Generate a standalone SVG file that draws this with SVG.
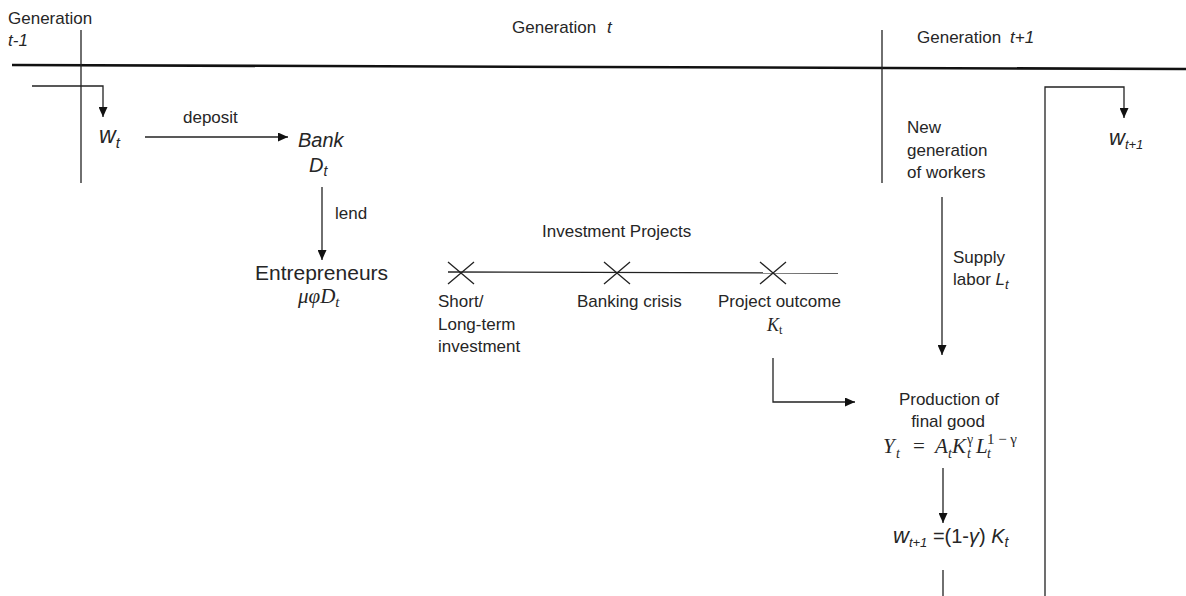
<svg xmlns="http://www.w3.org/2000/svg" width="1186" height="596" viewBox="0 0 1186 596">
<defs>
<marker id="ah" markerUnits="userSpaceOnUse" markerWidth="10" markerHeight="9" refX="10" refY="4.5" orient="auto">
<path d="M0,0 L10,4.5 L0,9 z" fill="#111"/>
</marker>
<style>
.t{font-family:"Liberation Sans",Arial,sans-serif;font-size:17px;fill:#262626}
.i{font-style:italic}
.m{font-family:"Liberation Serif","Times New Roman",serif;font-style:italic;fill:#262626}
.mf{font-family:"Liberation Serif","Times New Roman",serif;font-style:italic;fill:#262626;font-size:21px}
.ms{font-family:"Liberation Serif","Times New Roman",serif;font-style:italic;fill:#262626;font-size:14px}
.ln{stroke:#222;stroke-width:1.3;fill:none}
.ar{stroke:#222;stroke-width:1.3;fill:none;marker-end:url(#ah)}
</style>
</defs>
<rect width="1186" height="596" fill="#fff"/>
<g id="connectors">
<line x1="12" y1="65" x2="1186" y2="69" stroke="#111" stroke-width="2.6"/>
<line class="ln" x1="81" y1="30" x2="81" y2="183"/>
<line class="ln" x1="882" y1="30" x2="882" y2="183"/>
<polyline class="ar" points="32,86 103,86 103,117"/>
<line class="ar" x1="145" y1="137" x2="288" y2="137"/>
<line class="ar" x1="322" y1="187" x2="322" y2="260"/>
<line class="ln" x1="448" y1="272" x2="838" y2="273"/>
<path class="ln" d="M448,262 L474,284 M448,284 L474,262 M604,262 L630,284 M604,284 L630,262 M760,262 L786,284 M760,284 L786,262"/>
<polyline class="ar" points="773,358 773,402 855,402"/>
<line class="ar" x1="942" y1="197" x2="942" y2="355"/>
<polyline class="ar" points="1045,596 1045,87 1124,87 1124,118"/>
<line class="ar" x1="943" y1="468" x2="943" y2="523"/>
<line class="ln" x1="943" y1="570" x2="943" y2="596"/>
</g>
<g id="gen-t-1">
<text class="t" x="8" y="24">Generation</text>
<text class="t i" x="8" y="46">t-1</text>
</g>
<g id="gen-t">
<text class="t" x="512" y="33">Generation</text>
<text class="t i" x="607" y="33">t</text>
</g>
<g id="gen-t+1">
<text class="t" x="917" y="43">Generation</text>
<text class="t i" x="1010" y="43">t+1</text>
</g>
<g id="wt">
<text class="t i" x="99" y="143" style="font-size:23px">w<tspan dy="5" style="font-size:15px">t</tspan></text>
</g>
<g id="deposit-label">
<text class="t" x="183" y="123">deposit</text>
</g>
<g id="bank">
<text class="t i" x="298" y="147" style="font-size:20px">Bank</text>
<text class="t i" x="309" y="172" style="font-size:20px">D<tspan dy="4" style="font-size:14px">t</tspan></text>
</g>
<g id="lend-label">
<text class="t" x="335" y="219">lend</text>
</g>
<g id="entrepreneurs">
<text class="t" x="255" y="280" style="font-size:21px">Entrepreneurs</text>
<text class="m" x="298" y="303" style="font-size:21px">μφD<tspan dy="4" style="font-size:15px">t</tspan></text>
</g>
<g id="investment-projects">
<text class="t" x="542" y="237">Investment Projects</text>
</g>
<g id="short-long">
<text class="t" x="438" y="307">Short/</text>
<text class="t" x="438" y="330">Long-term</text>
<text class="t" x="438" y="352">investment</text>
</g>
<g id="banking-crisis">
<text class="t" x="577" y="307">Banking crisis</text>
</g>
<g id="project-outcome">
<text class="t" x="718" y="307">Project outcome</text>
<text class="m" x="767" y="331" style="font-size:18px">K<tspan dy="3" style="font-size:12px;font-style:normal">t</tspan></text>
</g>
<g id="new-generation">
<text class="t" x="907" y="133">New</text>
<text class="t" x="907" y="156">generation</text>
<text class="t" x="907" y="178">of workers</text>
</g>
<g id="supply-label">
<text class="t" x="953" y="263">Supply</text>
<text class="t" x="953" y="285">labor <tspan class="i">L</tspan><tspan class="i" dy="4" style="font-size:13px">t</tspan></text>
</g>
<g id="wt1">
<text class="t i" x="1109" y="145" style="font-size:22px">w<tspan dy="4" style="font-size:13px">t+1</tspan></text>
</g>
<g id="production">
<text class="t" x="949" y="405" text-anchor="middle">Production of</text>
<text class="t" x="948" y="427" text-anchor="middle">final good</text>
<text class="mf" x="883" y="453">Y</text>
<text class="ms" x="896" y="458">t</text>
<text class="mf" x="913" y="453" style="font-style:normal">=</text>
<text class="mf" x="935" y="453">A</text>
<text class="ms" x="948" y="458">t</text>
<text class="mf" x="952" y="453">K</text>
<text class="ms" x="967" y="444" style="font-style:normal">γ</text>
<text class="ms" x="967" y="458">t</text>
<text class="mf" x="976" y="453">L</text>
<text class="ms" x="987" y="444" style="font-style:normal;font-size:15px" textLength="30" lengthAdjust="spacing">1−γ</text>
<text class="ms" x="987" y="458">t</text>
</g>
<g id="wage">
<text class="t" x="893" y="543" style="font-size:20px"><tspan class="i" style="font-size:22px">w</tspan><tspan class="i" dy="4" style="font-size:13px">t+1</tspan><tspan dy="-4"> =(1-</tspan><tspan class="i">γ</tspan><tspan>) </tspan><tspan class="i">K</tspan><tspan class="i" dy="4" style="font-size:14px">t</tspan></text>
</g>
</svg>
